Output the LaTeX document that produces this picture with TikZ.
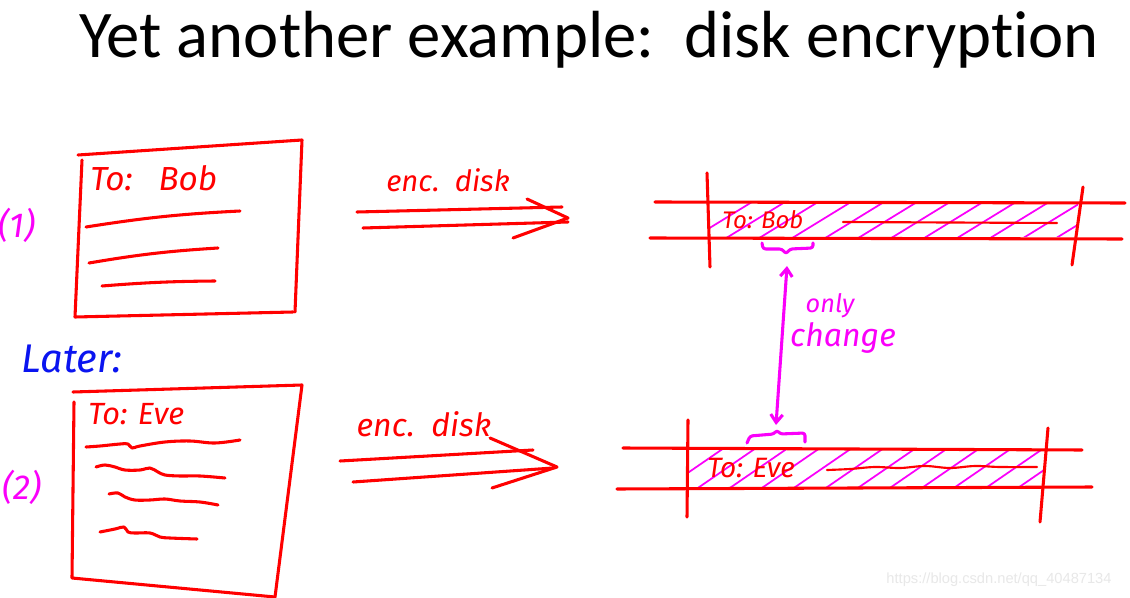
\documentclass[tikz,border=0pt]{standalone}
\usepackage{fontspec}
\setmainfont{Carlito}[Ligatures=NoCommon]
\newfontfamily\hand{Fira Sans}
\newfontfamily\wmfont{Liberation Sans}
\usetikzlibrary{arrows.meta}
\definecolor{pred}{RGB}{255,0,0}
\definecolor{pmag}{RGB}{250,0,250}
\definecolor{pblue}{RGB}{10,20,240}
\tikzset{
  pen/.style={pred, line width=2.3pt, line cap=round, line join=round},
  thinpen/.style={pred, line width=1.6pt, line cap=round, line join=round},
  mpen/.style={pmag, line width=2.3pt, line cap=round, line join=round},
  hatch/.style={pmag, line width=1.3pt, line cap=round},
  handred/.style={pred, font=\hand\itshape\fontsize{20}{22}\selectfont, inner sep=0pt},
  handsmall/.style={pred, font=\hand\itshape\fontsize{18}{20}\selectfont, inner sep=0pt},
  handmag/.style={pmag, font=\hand\itshape\fontsize{19}{21}\selectfont, inner sep=0pt},
}
\begin{document}
\begin{tikzpicture}[x=0.75pt,y=-0.75pt]
\useasboundingbox[fill=white] (0,0) rectangle (1130,598);
% title
\node[font=\fontsize{50}{58}\selectfont, inner sep=0pt] (title) at (589,40) {Yet another example:\ \ disk encryption};
% labels
\node[pmag, font=\hand\itshape\fontsize{26}{28}\selectfont, inner sep=0pt] (n1) at (17,225) {(1)};
\node[pmag, font=\hand\itshape\fontsize{26}{28}\selectfont, inner sep=0pt] (n2) at (22,487) {(2)};
\node[pblue, font=\hand\itshape\fontsize{30}{32}\selectfont, inner sep=0pt] (later) at (72,359) {Later:};
% document 1
\draw[pen] (78,155) -- (302,140) -- (295,312);
\draw[pen] (82,160) -- (75,317) -- (293,312);
\node[handred, font=\hand\itshape\fontsize{25}{27}\selectfont, anchor=west] (to1) at (90,178) {To:\ \ \ Bob};
\draw[pen] (86,227) to[bend left=3] (240,211);
\draw[pen] (89,263) to[bend left=3] (218,248);
\draw[pen] (102,286) to[bend left=2] (215,281);
% document 2
\draw[pen] (73,392) -- (302,385) -- (275,597);
\draw[pen] (74,402) -- (72,578) -- (275,597);
\node[handred, font=\hand\itshape\fontsize{23}{25}\selectfont, anchor=west] (to2) at (88,414) {To: Eve};
\draw[pen] plot[smooth, tension=0.6] coordinates {(86,447) (100,446) (120,444) (128,444) (132,448) (140,446) (165,442) (190,441) (215,443) (240,440)};
\draw[pen] plot[smooth, tension=0.6] coordinates {(96,467) (105,465) (115,467) (125,470) (140,470) (150,468) (158,472) (165,475) (180,476) (200,476) (225,478)};
\draw[pen] plot[smooth, tension=0.6] coordinates {(109,494) (118,493) (125,497) (135,500) (150,500) (165,499) (180,501) (200,502) (218,505)};
\draw[pen] plot[smooth, tension=0.6] coordinates {(100,532) (115,529) (124,527) (128,532) (135,533) (150,533) (160,537) (170,538) (197,539)};
% arrow 1
\node[handred, font=\hand\itshape\fontsize{22}{24}\selectfont] (enc1) at (448,180) {enc.\ \ disk};
\draw[pen] (357,212) -- (562,207);
\draw[pen] (363,228) -- (568,222);
\draw[pen] (527,199) -- (568,218) -- (513,238);
% arrow 2
\node[handred, font=\hand\itshape\fontsize{24}{26}\selectfont] (enc2) at (424,424) {enc.\ \ disk};
\draw[pen] (340,461) -- (533,450);
\draw[pen] (353,482) -- (553,468);
\draw[pen] (490,438) -- (557,467) -- (492,488);
% disk 1
\begin{scope}
\clip (709,204) rectangle (1078,237);
\foreach \x in {690,723,...,1100} \draw[hatch] (\x,240) -- ++(62,-38);
\end{scope}
\draw[pen] (655,202) -- (1125,203);
\draw[pen] (650,238) -- (1122,239);
\draw[pen] (707,173) -- (710,267);
\draw[pen] (1083,187) -- (1072,265);
\node[handsmall, anchor=west] (tob) at (722,220) {To: Bob};
\draw[thinpen] (843,222) -- (1057,223);
\draw[mpen, rounded corners=2pt] (762,243) -- (763,249) -- (782,249) -- (786,254) -- (790,249) -- (813,248) -- (813,243);
% disk 2
\begin{scope}
\clip (689,450) rectangle (1043,487);
\foreach \x in {660,692,...,1080} \draw[hatch] (\x,492) -- ++(64,-44);
\end{scope}
\draw[pen] (623,448) -- (1082,450);
\draw[pen] (617,489) -- (1092,487);
\draw[pen] (688,420) -- (687,517);
\draw[pen] (1048,428) -- (1040,522);
\node[handred, font=\hand\itshape\fontsize{21}{23}\selectfont, anchor=west] (toe) at (707,468) {To: Eve};
\draw[thinpen] plot[smooth, tension=0.6] coordinates {(827,470) (850,469) (875,467) (900,468) (925,466) (950,468) (975,466) (1000,467) (1037,467)};
\draw[mpen, rounded corners=2pt] (747,443) -- (750,436) -- (774,434) -- (777,430) -- (780,434) -- (805,433) -- (805,442);
% only change arrow
\coordinate (ctop) at (787,266);
\coordinate (cbot) at (776,425);
\draw[mpen, {Straight Barb[length=6pt,width=9pt]}-{Straight Barb[length=6pt,width=9pt]}] (ctop) -- (cbot);
\node[handmag] (only) at (830,306) {only};
\node[handmag, font=\hand\itshape\fontsize{24}{26}\selectfont] (change) at (843,338) {change};
% watermark
\node[gray!18, font=\wmfont\fontsize{11}{13}\selectfont, inner sep=0pt] (wm) at (999,580) {https://blog.csdn.net/qq\_40487134};
\end{tikzpicture}
\end{document}
